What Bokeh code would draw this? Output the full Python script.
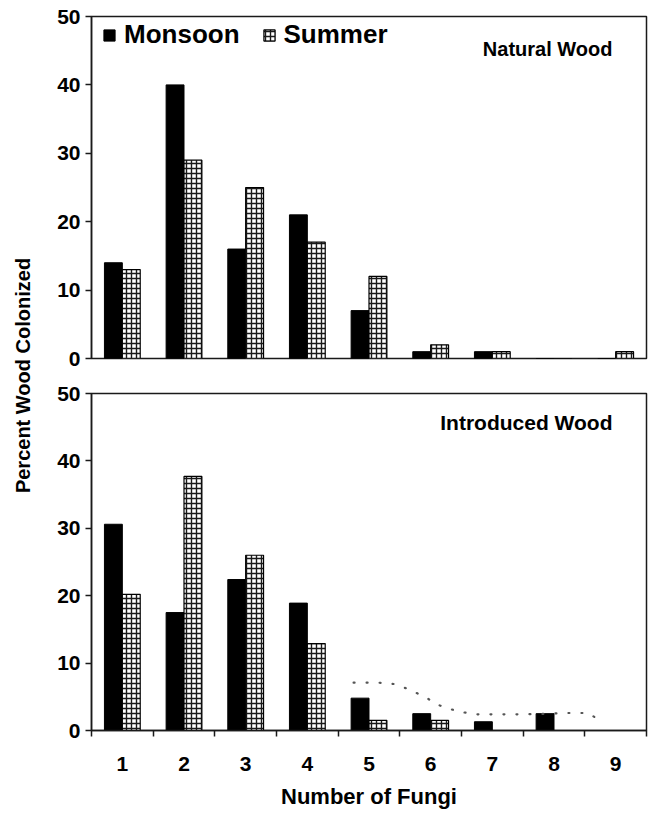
import math
from bokeh.plotting import figure
from bokeh.layouts import row, column
from bokeh.models import (ColumnDataSource, Range1d, FixedTicker, Legend, LegendItem,
                          Label)
from bokeh.transform import dodge
from bokeh.embed import file_html
from bokeh.resources import INLINE

# ---------------- data ----------------
fungi = [1, 2, 3, 4, 5, 6, 7, 8, 9]
fungi_labels = ["1", "2", "3", "4", "5", "6", "7", "8", "9"]
natural_monsoon = [14, 40, 16, 21, 7, 1, 1, 0, 0]
natural_summer = [13, 29, 25, 17, 12, 2, 1, 0, 1]
introduced_monsoon = [30.6, 17.5, 22.4, 18.9, 4.8, 2.5, 1.3, 2.5, 0]
introduced_summer = [20.2, 37.7, 26.0, 12.9, 1.5, 1.5, 0, 0, 0]
trend_x = [4.75, 5.15, 5.4, 5.65, 5.9, 6.15, 6.45, 6.75, 7.0, 7.5, 7.95, 8.2, 8.55, 8.8]
trend_y = [7.1, 7.1, 6.9, 6.1, 5.0, 3.7, 2.8, 2.4, 2.4, 2.4, 2.5, 2.6, 2.6, 1.2]
y_ticks = [0, 10, 20, 30, 40, 50]

FONT = "Liberation Sans"
BAR_W = 0.29
OFF = 0.145


def make_panel(monsoon, summer, title, title_size, height, top, bottom, show_x,
               title_drop, frame_h):
    src = ColumnDataSource(dict(x=fungi, m=monsoon, s=summer))
    p = figure(width=612, height=height, output_backend="svg", toolbar_location=None,
               x_range=Range1d(0.5, 9.5), y_range=Range1d(0, 50),
               min_border_left=53, min_border_right=4,
               min_border_top=top, min_border_bottom=bottom)
    p.grid.visible = False
    p.background_fill_color = "white"
    p.border_fill_color = "white"
    p.outline_line_color = "#1a1a1a"
    p.outline_line_width = 1.5

    rm = p.vbar(x=dodge("x", -OFF), top="m", width=BAR_W, source=src,
                fill_color="black", line_color="black", line_width=1)
    rs = p.vbar(x=dodge("x", OFF), top="s", width=BAR_W, source=src,
                fill_color="white", line_color="black", line_width=1.2,
                hatch_pattern="cross", hatch_color="#1a1a1a", hatch_scale=5,
                hatch_weight=1.4)

    ya = p.yaxis[0]
    ya.ticker = FixedTicker(ticks=y_ticks)
    ya.minor_tick_line_color = None
    ya.major_tick_in = 0
    ya.major_tick_out = 6
    ya.axis_line_color = "#1a1a1a"
    ya.axis_line_width = 1.5
    ya.major_tick_line_width = 1.5
    ya.major_tick_line_color = "#1a1a1a"
    ya.major_label_text_font = FONT
    ya.major_label_text_font_style = "bold"
    ya.major_label_text_font_size = "21px"
    ya.major_label_text_color = "black"
    ya.major_label_standoff = 5

    xa = p.xaxis[0]
    if show_x:
        xa.ticker = FixedTicker(ticks=fungi, minor_ticks=[f + 0.5 for f in [0] + fungi])
        xa.major_label_overrides = {f: l for f, l in zip(fungi, fungi_labels)}
        xa.major_tick_in = 0
        xa.major_tick_out = 0
        xa.minor_tick_in = 0
        xa.minor_tick_out = 6
        xa.minor_tick_line_width = 1.5
        xa.minor_tick_line_color = "#1a1a1a"
        xa.axis_line_color = "#1a1a1a"
        xa.axis_line_width = 1.5
        xa.major_label_text_font = FONT
        xa.major_label_text_font_style = "bold"
        xa.major_label_text_font_size = "21px"
        xa.major_label_text_color = "black"
        xa.major_label_standoff = 20
        xa.axis_label = "Number of Fungi"
        xa.axis_label_text_font = FONT
        xa.axis_label_text_font_style = "bold"
        xa.axis_label_text_font_size = "22px"
        xa.axis_label_text_color = "black"
        xa.axis_label_standoff = 10
    else:
        xa.visible = False

    p.add_layout(Label(x=521, y=frame_h - title_drop, x_units="screen", y_units="screen",
                       text=title, text_color="black",
                       text_font=FONT, text_font_style="bold", text_font_size=title_size,
                       text_align="right", text_baseline="top"))
    return p, rm, rs


p1, rm1, rs1 = make_panel(natural_monsoon, natural_summer, "Natural Wood", "20px",
                          375, 16, 17, False, 21, 342)
p2, rm2, rs2 = make_panel(introduced_monsoon, introduced_summer, "Introduced Wood", "21px",
                          436, 18, 80, True, 18, 338)

src_t = ColumnDataSource(dict(x=trend_x, y=trend_y))
p2.line(x="x", y="y", source=src_t, line_color="#555555", line_width=2.2,
        line_dash="1 12", line_cap="round")

legend = Legend(items=[LegendItem(label="Monsoon", renderers=[rm1]),
                       LegendItem(label="Summer", renderers=[rs1])],
                orientation="horizontal", location=(7, 304),
                glyph_width=14, glyph_height=14, label_standoff=8, spacing=22,
                padding=4, margin=0,
                label_text_font=FONT, label_text_font_style="bold",
                label_text_font_size="26px", label_text_color="black",
                background_fill_alpha=0, border_line_alpha=0)
p1.add_layout(legend)

lab = figure(width=38, height=811, output_backend="svg", toolbar_location=None,
             x_range=Range1d(0, 1), y_range=Range1d(0, 1), min_border=0)
lab.axis.visible = False
lab.grid.visible = False
lab.outline_line_color = None
lab.add_layout(Label(x=22, y=436, x_units="screen", y_units="screen",
                     text="Percent Wood Colonized", angle=math.pi / 2, text_color="black",
                     text_font=FONT, text_font_style="bold", text_font_size="20px",
                     text_align="center", text_baseline="middle"))

layout = row(lab, column(p1, p2, spacing=0), spacing=0)
open("out.html", "w").write(file_html(layout, INLINE))
